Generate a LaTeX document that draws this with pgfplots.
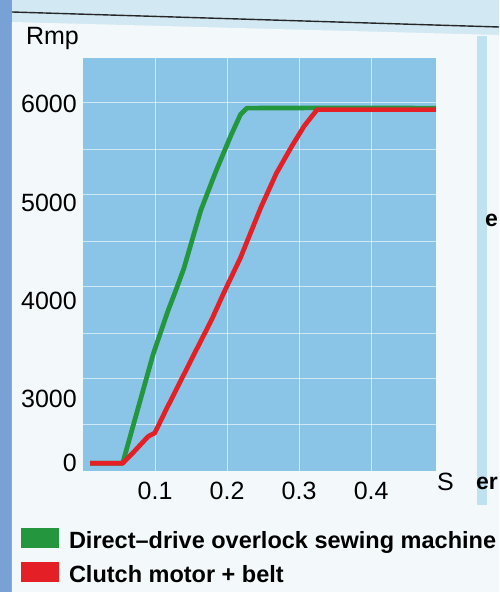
\documentclass[border=0pt]{standalone}
\usepackage{fontspec}
\setmainfont{Liberation Sans}
\usepackage{pgfplots}
\usepackage{pgfplotstable}
\pgfplotsset{compat=1.18}

\definecolor{plotbg}{RGB}{138,196,230}
\definecolor{ddgreen}{RGB}{36,150,62}
\definecolor{cmred}{RGB}{228,32,38}
\definecolor{topband}{RGB}{210,233,243}
\definecolor{leftblue}{RGB}{120,162,214}
\definecolor{paper}{RGB}{243,248,250}
\definecolor{rstrip}{RGB}{192,225,239}

% time (s) and speed (rpm)
\pgfplotstableread{
t rpm
0.010 0
0.055 0
0.0975 3460
0.118 3900
0.129 4110
0.140 4330
0.1635 4920
0.1846 5320
0.2058 5690
0.2186 5895
0.2275 5960
0.320 5963
0.490 5960
}\directdrive

\pgfplotstableread{
t rpm
0.010 0
0.055 0
0.0704 530
0.0904 1257
0.0996 1420
0.1146 2457
0.136 3193
0.1575 3505
0.179 3815
0.196 4091
0.2185 4437
0.247 4952
0.2684 5297
0.290 5575
0.3074 5782
0.325 5945
0.490 5945
}\clutchbelt

\begin{document}
\begin{tikzpicture}[x=1pt,y=1pt]
\useasboundingbox (-83,-121) rectangle (416,471);
\fill[topband] (-83,-121) rectangle (416,471);
\fill[leftblue] (-83,-121) rectangle (-71,471);
\fill[paper] (-71,449) -- (416,436) -- (416,-121) -- (-71,-121) -- cycle;
\fill[rstrip] (394,435) rectangle (404,-34);
\draw[line width=1.4pt, black!85] (-71,459) -- (416,444);
\begin{axis}[
  at={(0,0)}, anchor=south west,
  scale only axis, width=353pt, height=413pt,
  xmin=0, xmax=0.49, ymin=2270, ymax=6470,
  axis line style={draw=none},
  axis background/.style={fill=plotbg},
  xtick={0.1,0.2,0.3,0.4}, xticklabels={0.1,0.2,0.3,0.4},
  ytick={2348,3000,4000,5000,6000}, yticklabels={0,3000,4000,5000,6000},
  minor ytick={2745,3213,3670,4148,4606,5084,5542,6020},
  xmajorgrids=true, ymajorgrids=false, yminorgrids=true,
  grid style={white, opacity=0.6, line width=0.9pt},
  major tick length=0pt, minor tick length=0pt,
  tick label style={font=\fontsize{25}{29}\selectfont},
  xticklabel style={inner sep=0pt, yshift=-10.5pt},
  yticklabel style={inner sep=0pt, xshift=-6pt},
  every axis x label/.style={at={(axis description cs:1,0)}, anchor=west, inner sep=0pt, xshift=1pt, yshift=-11pt, font=\fontsize{25}{29}\selectfont},
  every axis y label/.style={at={(axis description cs:0,1)}, anchor=base east, inner sep=0pt, xshift=-4pt, yshift=14pt, font=\fontsize{25}{29}\selectfont},
  xlabel={S}, ylabel={Rmp},
  legend style={at={(axis description cs:-0.1756,-0.138)}, anchor=north west, draw=none, fill=none, inner sep=0pt, outer sep=0pt,
    font=\fontsize{23.5}{27}\selectfont\bfseries,
    nodes={inner sep=0pt, text height=17pt, text depth=5pt}, row sep=8pt,
    /tikz/every odd column/.append style={column sep=10pt}},
  legend cell align=left,
  legend image code/.code={\fill[#1, draw=none] (0pt,-5pt) rectangle (38pt,15pt);},
]
\addplot[ddgreen, line width=4.7pt, line join=round] table[x=t, y expr={\thisrow{rpm}<3000 ? 2348+0.21733*\thisrow{rpm} : \thisrow{rpm}}] {\directdrive};
\addlegendentry{Direct--drive overlock sewing machine}
\addplot[cmred, line width=4.7pt, line join=round] table[x=t, y expr={\thisrow{rpm}<3000 ? 2348+0.21733*\thisrow{rpm} : \thisrow{rpm}}] {\clutchbelt};
\addlegendentry{Clutch motor + belt}
\end{axis}
\node[font=\fontsize{23}{27}\selectfont\bfseries, anchor=base west, inner sep=0pt] at (402,244) {e};
\node[font=\fontsize{23}{27}\selectfont\bfseries, anchor=base west, inner sep=0pt] at (393,-18) {er};
\end{tikzpicture}
\end{document}
